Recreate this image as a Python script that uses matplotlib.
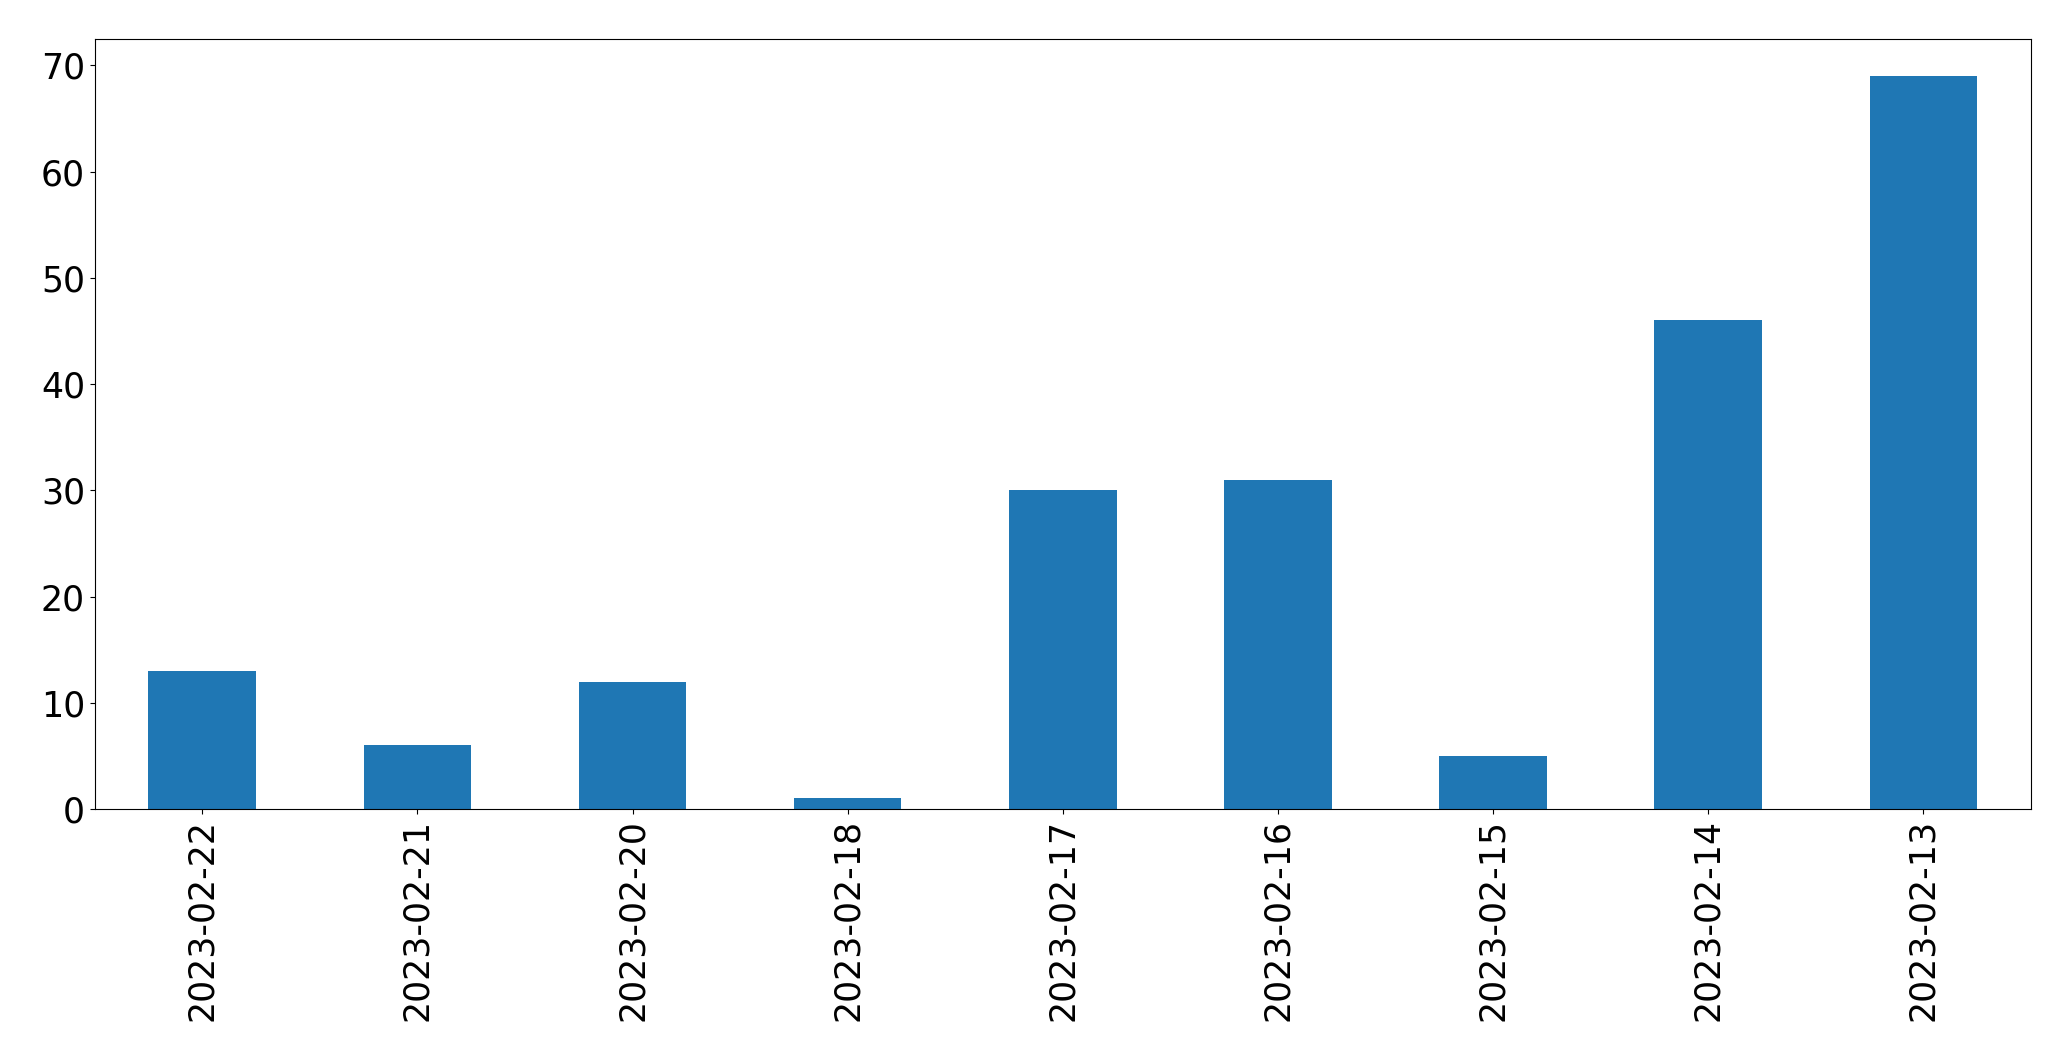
import matplotlib
matplotlib.use("Agg")
import matplotlib.pyplot as plt
import pandas as pd

# daily counts, in the order they appear on the chart
dates = ["2023-02-22", "2023-02-21", "2023-02-20", "2023-02-18", "2023-02-17",
         "2023-02-16", "2023-02-15", "2023-02-14", "2023-02-13"]
counts = [13, 6, 12, 1, 30, 31, 5, 46, 69]

s = pd.Series(counts, index=dates)

fig = plt.figure(figsize=(20.71, 10.61), dpi=100)
ax = fig.add_axes([94.7 / 2071, 1 - 809 / 1061, (2031 - 94.7) / 2071, (809 - 39.3) / 1061])
s.plot(kind="bar", ax=ax, color="#1f77b4")
ax.tick_params(axis="both", labelsize=25)
ax.set_xlabel("")

fig.savefig("out.png", dpi=100)
